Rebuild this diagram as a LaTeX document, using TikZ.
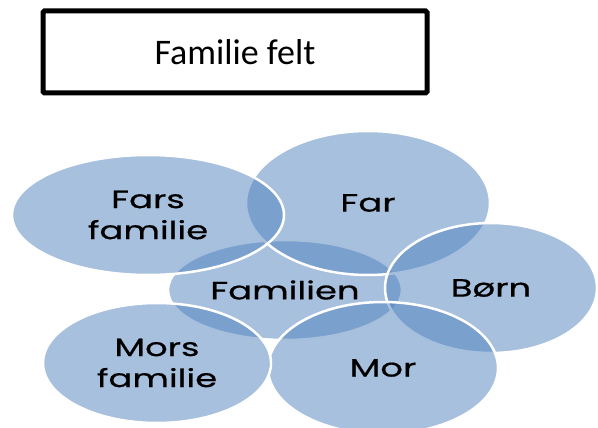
\documentclass[tikz,border=0pt]{standalone}
\usepackage{fontspec}
\setmainfont{Carlito}
\newfontfamily\ringfont[FakeStretch=1.42, FakeBold=0.6]{Poppins}
\usetikzlibrary{shapes.geometric}
\definecolor{ringblue}{RGB}{79,129,189}
\tikzset{
  ring/.style={ellipse, draw=white, line width=2.5pt, fill=ringblue,
    fill opacity=0.5, text opacity=1, inner sep=0pt, align=center,
    font=\ringfont\fontsize{25}{31}\selectfont},
  titlebox/.style={draw, line width=5pt, rounded corners=1.5pt,
    minimum width=384pt, minimum height=82pt, font=\fontsize{36}{40}\selectfont}
}
\begin{document}
\begin{tikzpicture}[x=1pt, y=-1pt]
  \useasboundingbox (0, 0) rectangle (598, 428);
  \node[titlebox] (title) at (235, 52) {Familie felt};
  % the ring of ellipses, back to front
  \node[ring, minimum width=234pt, minimum height=100pt] (familien) at (285, 290) {Familien};
  \node[ring, minimum width=244pt, minimum height=144pt] (far) at (368, 203) {Far};
  \node[ring, minimum width=212pt, minimum height=130pt] (born) at (491, 288) {Børn};
  \node[ring, minimum width=230pt, minimum height=132pt] (mor) at (383, 368) {Mor};
  \node[ring, minimum width=228pt, minimum height=120pt] (morsfam) at (157, 363) {Mors\\familie};
  \node[ring, minimum width=272pt, minimum height=120pt] (farsfam) at (148, 215) {Fars\\familie};
\end{tikzpicture}
\end{document}
